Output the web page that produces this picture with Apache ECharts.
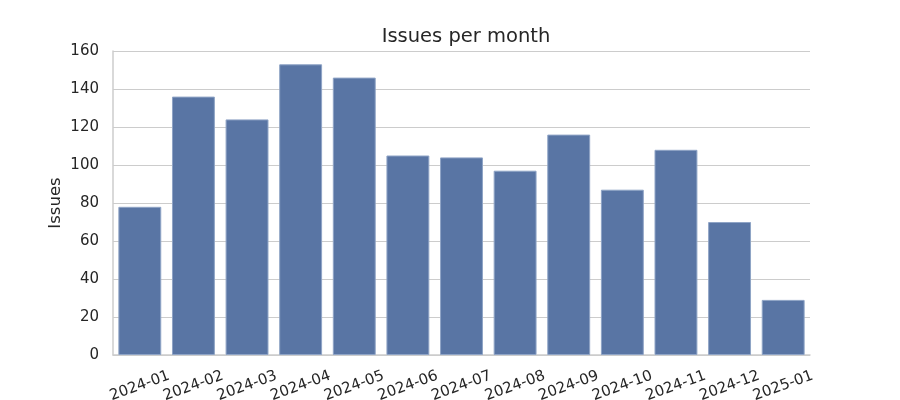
<!DOCTYPE html>
<html><head><meta charset="utf-8">
<script src="https://cdn.jsdelivr.net/npm/echarts@6/dist/echarts.min.js"></script>
<style>html,body{margin:0;padding:0;background:#fff}#c{width:900px;height:400px}</style>
</head><body><div id="c"></div>
<script>
const months = ['2024-01','2024-02','2024-03','2024-04','2024-05','2024-06','2024-07','2024-08','2024-09','2024-10','2024-11','2024-12','2025-01'];
const issues = [78, 136, 124, 153, 146, 105, 104, 97, 116, 87, 108, 70, 29];
const yTicks = [0, 20, 40, 60, 80, 100, 120, 140, 160];

const chart = echarts.init(document.getElementById('c'));
const font = 'DejaVu Sans';
chart.setOption({
  animation: false,
  title: {text: 'Issues per month', left: 461, top: 22, textAlign: 'center',
    textStyle: {fontFamily: font, fontSize: 19.5, fontWeight: 'normal', color: '#262626'}},
  grid: {left: 113, right: 90, top: 51, bottom: 45, containLabel: false, outerBoundsMode: 'none'},
  xAxis: {type: 'category', data: months,
    axisLine: {show: true, lineStyle: {color: '#cccccc', width: 1.5}},
    axisTick: {show: false},
    axisLabel: {rotate: 20, align: 'center', verticalAlign: 'middle', margin: 31, interval: 0,
      fontFamily: font, fontSize: 15, color: '#262626'}},
  yAxis: {type: 'value', min: yTicks[0], max: yTicks[yTicks.length-1], interval: 20,
    name: 'Issues', nameLocation: 'middle', nameGap: 49, nameMoveOverlap: false,
    nameTextStyle: {fontFamily: font, fontSize: 16.5, color: '#262626'},
    axisLine: {show: true, lineStyle: {color: '#cccccc', width: 1.5}},
    axisTick: {show: false},
    axisLabel: {fontFamily: font, fontSize: 15, color: '#262626', margin: 14},
    splitLine: {lineStyle: {color: '#cccccc', width: 1.2}}},
  series: [{type: 'bar', data: issues, barCategoryGap: '20%',
    itemStyle: {color: '#5975a4', borderColor: '#8fa4c6', borderWidth: 1}}]
});
</script></body></html>
